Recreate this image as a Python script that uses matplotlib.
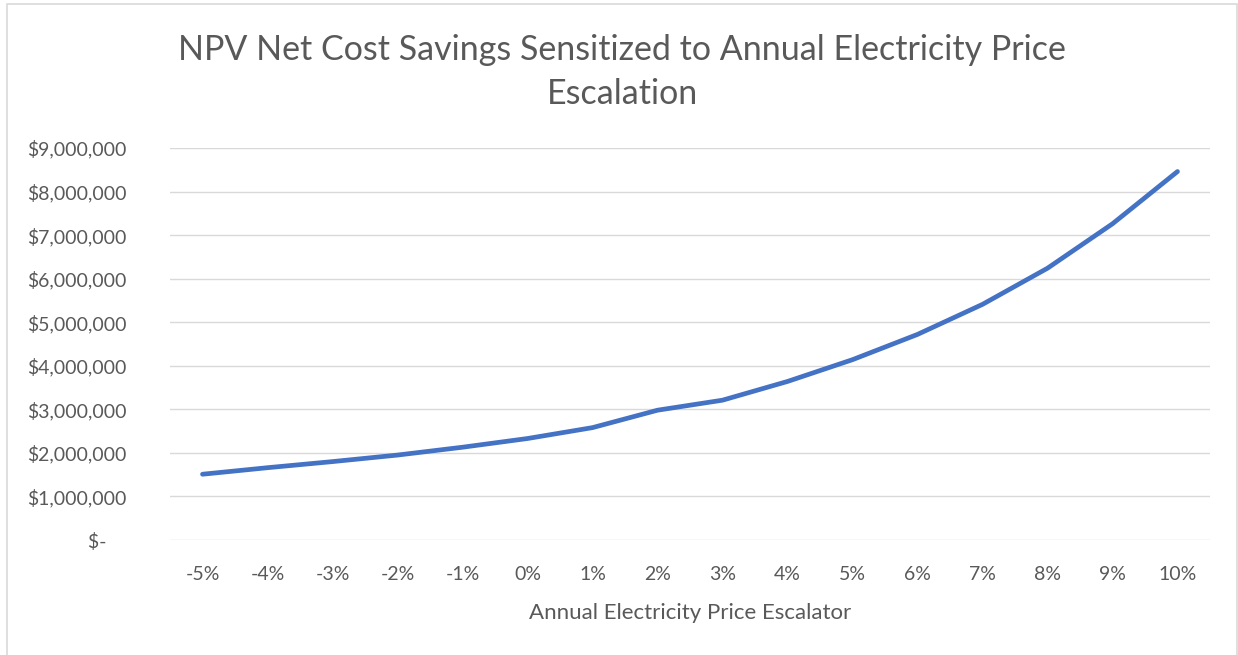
import matplotlib
matplotlib.use("Agg")
import matplotlib.pyplot as plt
from matplotlib.ticker import FuncFormatter
from matplotlib.patches import Rectangle

categories = ["-5%", "-4%", "-3%", "-2%", "-1%", "0%", "1%", "2%", "3%", "4%",
              "5%", "6%", "7%", "8%", "9%", "10%"]
npv_savings = [1510000, 1660000, 1800000, 1950000, 2130000, 2330000, 2580000,
               2980000, 3210000, 3640000, 4140000, 4720000, 5410000, 6240000,
               7260000, 8460000]
y_ticks = [0, 1000000, 2000000, 3000000, 4000000, 5000000, 6000000, 7000000,
           8000000, 9000000]

plt.rcParams['font.family'] = ['Lato', 'DejaVu Sans']
text_color = "#595959"
grid_color = "#d9d9d9"

W, H = 1238, 655
fig = plt.figure(figsize=(W / 100, H / 100), dpi=100)
fig.patch.set_facecolor("white")

# chart border
fig.patches.append(Rectangle((7 / W, -0.05), (1237 - 7) / W, 1.05 - 4 / H,
                             transform=fig.transFigure, fill=False,
                             edgecolor=grid_color, linewidth=1.2))

ax = fig.add_axes([170 / W, 1 - 540 / H, (1210 - 170) / W, (540 - 148) / H])
x = list(range(len(categories)))
ax.plot(x, npv_savings, color="#4472C4", linewidth=3.4,
        solid_capstyle="round", solid_joinstyle="round", zorder=3)

ax.set_xlim(-0.5, len(categories) - 0.5)
ax.set_ylim(0, 9000000)
ax.set_yticks(y_ticks)
ax.set_xticks(x)
ax.set_xticklabels(categories)


def fmt(v, pos):
    if v == 0:
        return "$-    "
    return "${:,.0f}".format(v)


ax.yaxis.set_major_formatter(FuncFormatter(fmt))
ax.grid(axis="y", color=grid_color, linewidth=1.0)
ax.set_axisbelow(True)
for s in ax.spines.values():
    s.set_visible(False)
ax.tick_params(axis="both", length=0, colors=text_color, labelsize=14)
ax.tick_params(axis="x", pad=19)
ax.tick_params(axis="y", pad=31)

ax.set_xlabel("Annual Electricity Price Escalator", fontsize=16,
              color=text_color, labelpad=14)
fig.text(622 / W, 1 - 72 / H,
         "NPV Net Cost Savings Sensitized to Annual Electricity Price\nEscalation",
         ha="center", va="center", fontsize=24.5, color=text_color,
         linespacing=1.45)

fig.savefig("out.png", dpi=100, facecolor="white")
